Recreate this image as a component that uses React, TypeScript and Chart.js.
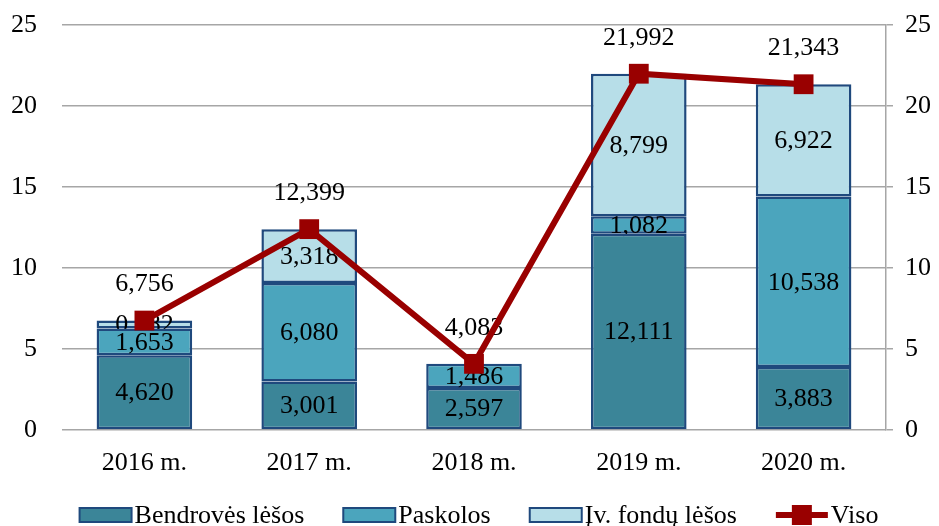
import React, { useEffect, useRef } from "react";
import { Chart, registerables } from "chart.js";

Chart.register(...registerables);

const categories = ["2016 m.", "2017 m.", "2018 m.", "2019 m.", "2020 m."];
const bendroves = [4.62, 3.001, 2.597, 12.111, 3.883];
const paskolos = [1.653, 6.08, 1.486, 1.082, 10.538];
const fondu = [0.482, 3.318, 0, 8.799, 6.922];
const viso = [6.756, 12.399, 4.083, 21.992, 21.343];
const seriesNames = ["Bendrovės lėšos", "Paskolos", "Įv. fondų lėšos", "Viso"];
const yMin = 0;
const yMax = 25;
const yStep = 5;

const FONT = '"Liberation Serif", "Times New Roman", serif';
const FS = 26;
const C1 = "#3b8598";
const C2 = "#4ba5bd";
const C3 = "#b7dee8";
const BORDER = "#1f497d";
const RED = "#990000";
const GRID = "#a6a6a6";

const fmt = (v: number) => v.toFixed(3).replace(".", ",");

const labelPlugin = {
  id: "customLabels",
  afterDatasetDraw(chart: any, args: any) {
    const ds = chart.data.datasets[args.index];
    if (ds.type === "line") return;
    const ctx = chart.ctx;
    ctx.save();
    ctx.font = `${FS}px ${FONT}`;
    ctx.fillStyle = "#000";
    ctx.textAlign = "center";
    ctx.textBaseline = "middle";
    args.meta.data.forEach((el: any, i: number) => {
      const v = ds.data[i];
      if (!v) return;
      const p = el.getProps(["x", "y", "base"], true);
      ctx.fillText(fmt(v), p.x, (p.y + p.base) / 2 + 1);
    });
    ctx.restore();
  },
  beforeDatasetDraw(chart: any, args: any) {
    const ds = chart.data.datasets[args.index];
    if (ds.type !== "line") return;
    const ctx = chart.ctx;
    ctx.save();
    ctx.font = `${FS}px ${FONT}`;
    ctx.fillStyle = "#000";
    ctx.textAlign = "center";
    ctx.textBaseline = "middle";
    args.meta.data.forEach((el: any, i: number) => {
      const p = el.getProps(["x", "y"], true);
      ctx.fillText(fmt(ds.data[i]), p.x, p.y - 36);
    });
    ctx.restore();
  },
  afterDraw(chart: any) {
    const ctx = chart.ctx;
    ctx.save();
    ctx.font = `${FS}px ${FONT}`;
    ctx.textBaseline = "middle";
    ctx.textAlign = "left";
    const boxW = 52;
    const boxH = 14;
    const gap = 3;
    const spacing = 39;
    const widths = seriesNames.map((n) => ctx.measureText(n).width);
    const total =
      widths.reduce((a: number, b: number) => a + b, 0) + seriesNames.length * (boxW + gap) + spacing * (seriesNames.length - 1);
    let x = 479 - total / 2;
    const y = 515;
    const fills = [C1, C2, C3];
    seriesNames.forEach((name, i) => {
      if (i < 3) {
        ctx.fillStyle = fills[i];
        ctx.fillRect(x, y - boxH / 2, boxW, boxH);
        ctx.strokeStyle = BORDER;
        ctx.lineWidth = 2;
        ctx.strokeRect(x, y - boxH / 2, boxW, boxH);
      } else {
        ctx.strokeStyle = RED;
        ctx.lineWidth = 6;
        ctx.beginPath();
        ctx.moveTo(x, y);
        ctx.lineTo(x + boxW, y);
        ctx.stroke();
        ctx.fillStyle = RED;
        ctx.fillRect(x + boxW / 2 - 10, y - 10, 20, 20);
      }
      ctx.fillStyle = "#000";
      ctx.fillText(name, x + boxW + gap, y + 1);
      x += boxW + gap + widths[i] + spacing;
    });
    ctx.restore();
  },
};

export default function App() {
  const ref = useRef<HTMLCanvasElement | null>(null);
  useEffect(() => {
    document.body.style.margin = "0";
    const canvas = ref.current;
    if (!canvas) return;
    const barDs = (label: string, data: number[], color: string) => ({
      type: "bar" as const,
      label,
      data,
      backgroundColor: color,
      borderColor: BORDER,
      borderWidth: 2.5,
      borderSkipped: false,
      stack: "s",
      order: 1,
      yAxisID: "y",
      barPercentage: 1,
      categoryPercentage: 0.58,
    });
    const chart = new Chart(canvas, {
      type: "bar",
      data: {
        labels: categories,
        datasets: [
          barDs(seriesNames[0], bendroves, C1),
          barDs(seriesNames[1], paskolos, C2),
          barDs(seriesNames[2], fondu, C3),
          {
            type: "line" as const,
            label: seriesNames[3],
            data: viso,
            borderColor: RED,
            backgroundColor: RED,
            borderWidth: 6,
            pointStyle: "rect",
            pointRadius: 14,
            pointBorderWidth: 0,
            pointBackgroundColor: RED,
            order: 0,
            yAxisID: "y",
          } as any,
        ],
      },
      options: {
        responsive: false,
        animation: false,
        layout: { padding: { top: 25, bottom: 46, left: 0, right: 0 } },
        plugins: { legend: { display: false }, tooltip: { enabled: false } },
        scales: {
          x: {
            stacked: true,
            grid: { display: false },
            border: { display: false },
            ticks: { font: { family: FONT, size: FS }, color: "#000", padding: 10 },
            afterFit: (s: any) => {
              s.height = 50;
            },
          },
          y: {
            stacked: true,
            position: "left",
            min: yMin,
            max: yMax,
            ticks: { stepSize: yStep, font: { family: FONT, size: FS }, color: "#000", padding: 25 },
            grid: { color: GRID, lineWidth: 1.5, drawTicks: false },
            border: { display: false },
            afterFit: (s: any) => {
              s.width = 62;
              s.paddingTop = 0;
              s.paddingBottom = 0;
            },
          },
          y2: {
            position: "right",
            min: yMin,
            max: yMax,
            ticks: { stepSize: yStep, font: { family: FONT, size: FS }, color: "#000", padding: 12 },
            grid: { drawOnChartArea: false, color: GRID, lineWidth: 1.5, tickLength: 7 },
            border: { display: true, color: GRID, width: 1.5 },
            afterFit: (s: any) => {
              s.width = 53;
              s.paddingTop = 0;
              s.paddingBottom = 0;
            },
          },
        },
      },
      plugins: [labelPlugin],
    } as any);
    return () => chart.destroy();
  }, []);
  return (
    <div style={{ width: 939, height: 526 }}>
      <canvas ref={ref} width={939} height={526} style={{ display: "block" }} />
    </div>
  );
}
